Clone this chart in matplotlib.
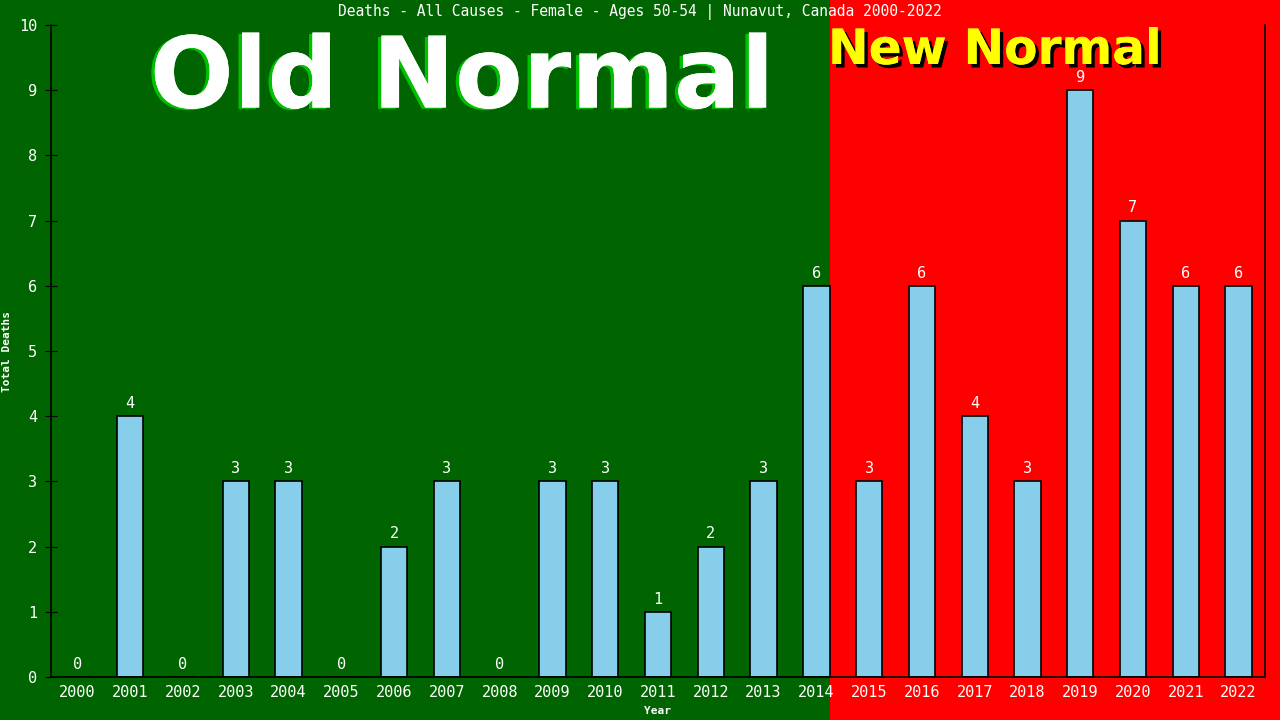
import numpy as np
import matplotlib.pyplot as plt
import matplotlib.patheffects as pe
from matplotlib.patches import Rectangle
from matplotlib.transforms import blended_transform_factory

years = [str(y) for y in range(2000, 2023)]
deaths = [0, 4, 0, 3, 3, 0, 2, 3, 0, 3, 3, 1, 2, 3, 6, 3, 6, 4, 3, 9, 7, 6, 6]
split_year = "2015"  # first year of the "New Normal" period

mono = "DejaVu Sans Mono"

fig = plt.figure(figsize=(12.8, 7.2), dpi=100, facecolor="#ff0000")
ax = fig.add_axes([51 / 1280, 43 / 720, 1214 / 1280, 652 / 720])
ax.patch.set_visible(False)

x = np.arange(len(years))
split = years.index(split_year) - 0.75

# background halves across the whole figure
tr = blended_transform_factory(ax.transData, fig.transFigure)
ax.add_patch(Rectangle((-50, 0), split + 50, 1, transform=tr,
                       facecolor="#006400", edgecolor="none",
                       clip_on=False, zorder=-10))

bars = ax.bar(x, deaths, width=0.5, color="#87ceeb",
              edgecolor="black", linewidth=1.2, zorder=2)
for xi, v in zip(x, deaths):
    ax.text(xi, v + 0.08, str(v), ha="center", va="bottom",
            color="white", fontsize=11, family=mono, zorder=3)

ax.set_xlim(-0.5, len(years) - 0.5)
ax.set_ylim(0, 10)
ax.set_yticks(range(0, 11))
ax.set_xticks(x)
ax.set_xticklabels(years)
ax.tick_params(axis="x", length=0, colors="white", labelsize=11, pad=6)
ax.tick_params(axis="y", direction="inout", length=8, colors="black",
               labelcolor="white", labelsize=11, pad=6)
for lbl in ax.get_xticklabels() + ax.get_yticklabels():
    lbl.set_family(mono)
ax.spines["top"].set_visible(False)
for s in ["left", "right", "bottom"]:
    ax.spines[s].set_color("black")
    ax.spines[s].set_linewidth(1.2)

ax.set_xlabel("Year", color="white", fontsize=8, family=mono,
              fontweight="bold", labelpad=4)
ax.set_ylabel("Total Deaths", color="white", fontsize=8, family=mono,
              fontweight="bold")
ax.yaxis.set_label_coords(-0.032, 0.5)

fig.text(0.5, 0.983, "Deaths - All Causes - Female - Ages 50-54 | Nunavut, Canada 2000-2022",
         ha="center", va="center", color="white", fontsize=10.5, family=mono)

fig.text(462 / 1280, 1 - 80 / 720, "Old Normal", ha="center", va="center",
         color="white", fontsize=71, fontweight="bold", family="DejaVu Sans",
         path_effects=[pe.withSimplePatchShadow(offset=(-2.5, -1.0), shadow_rgbFace="#00c000", alpha=1),
                       pe.Normal()])
fig.text(995 / 1280, 1 - 50 / 720, "New Normal", ha="center", va="center",
         color="#ffff00", fontsize=35, fontweight="bold", family="DejaVu Sans",
         path_effects=[pe.withSimplePatchShadow(offset=(2.5, -2.5), shadow_rgbFace="black", alpha=1),
                       pe.Normal()])

fig.savefig("out.png", dpi=100, facecolor=fig.get_facecolor())
